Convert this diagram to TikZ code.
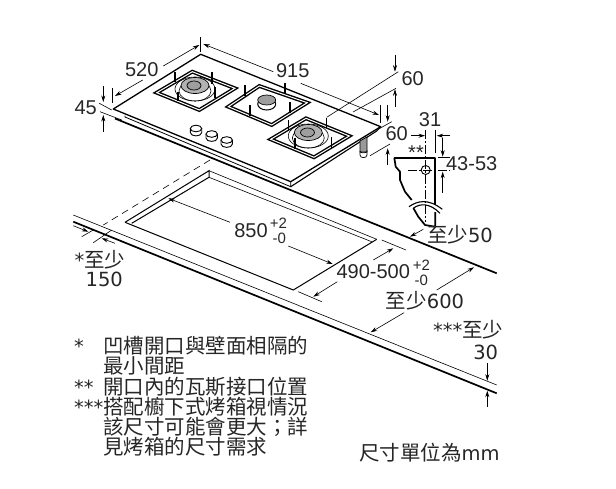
\documentclass[tikz,border=0pt]{standalone}
\usepackage{fontspec}
\usetikzlibrary{arrows.meta}
\setmainfont{Liberation Sans}
\newfontfamily\cjk[Scale=1.05]{Noto Sans CJK TC}
\newfontfamily\dv{DejaVu Sans}
\tikzset{
  dimln/.style={-{Stealth[length=6.5pt,width=4pt]},line width=.6pt},
  thinln/.style={line width=.6pt},
  medln/.style={line width=1pt},
  thickln/.style={line width=1.7pt},
  grate/.style={line width=1.4pt,double=white,double distance=1pt,line join=miter},
  post/.style={line width=1.5pt},
  lbl/.style={inner sep=0pt,font=\fontsize{20}{20}\selectfont,text=black!85},
  lbldv/.style={inner sep=0pt,font=\dv\fontsize{19.5}{20}\selectfont,text=black!85},
  lblsmall/.style={inner sep=0pt,font=\fontsize{15}{15}\selectfont,text=black!85},
  legend/.style={inner sep=0pt,anchor=base west,font=\dv\fontsize{19.5}{20}\selectfont,text=black!85},
  burnercap/.style={draw,line width=.7pt,fill=black!30},
}
\begin{document}
\begin{tikzpicture}[x=1pt,y=-1pt]
\useasboundingbox (0,0) rectangle (616,488);
% worktop
\draw[thickln] (285,187.8) -- (496.7,273.3);
\draw[thickln] (73.3,221.7) -- (496.7,393.3);
\draw[thinln] (73.3,215) -- (496.7,385);
% cut-out
\draw[thinln,dash pattern=on 7pt off 5pt] (210,160) -- (103.3,225);
\draw[medln] (125,222.3) -- (209,170.7) -- (209,177.3) -- (131.7,223.3);
\draw[thinln] (209,170.7) -- (376.7,239.3);
\draw[thinln] (209,177.3) -- (371.7,241.7);
\draw[medln] (125,222.3) -- (293.3,290) -- (376.7,239.3);
% hob
\draw[line width=1.3pt,fill=white,line join=round] (200.7,54.3) -- (380.7,126.7) -- (290.7,181.7) -- (113.3,109) -- cycle;
\draw[line width=.8pt] (125,115.5) -- (125,117) -- (290.7,186.7) -- (290.7,181.7);
\draw[thickln] (115,118.5) -- (285,187.8);
\draw[line width=1.1pt] (290.7,186.7) -- (376.7,131) -- (380.7,126.7);
% grates
\draw[grate] (192.3,71.7) -- (235,88.3) -- (199.3,110) -- (156.7,92.7) -- cycle;
\draw[grate] (259.3,86) -- (307.3,102.7) -- (271.7,125) -- (228.3,106.7) -- cycle;
\draw[grate] (306,118.3) -- (349.3,136) -- (314,157.3) -- (270.7,139.3) -- cycle;
% burner 1
\draw[thinln] (195,89) ellipse [x radius=20,y radius=12];
\draw[thinln] (195,91) ellipse [x radius=16,y radius=10];
\draw[burnercap] (195,85.5) ellipse [x radius=14,y radius=8];
\draw[burnercap,fill=black!38] (194,85.5) ellipse [x radius=7,y radius=4.5];
% burner 2
\draw[line width=1pt,fill=white] (266.7,104) ellipse [x radius=9,y radius=6];
\draw[burnercap,fill=black!38] (266.7,100) ellipse [x radius=9,y radius=5];
% burner 3
\draw[thinln] (308.3,136) ellipse [x radius=20,y radius=12];
\draw[thinln] (308.3,138) ellipse [x radius=16,y radius=10];
\draw[burnercap] (308.3,132.5) ellipse [x radius=14,y radius=8];
\draw[burnercap,fill=black!38] (307.5,132.5) ellipse [x radius=7,y radius=4.5];
% posts
\foreach \xx/\ya/\yb in {175/72/82,212/72/84,178/92/101,215/87/98,
  245/85/96,285/83/94,250/105/116,290/102/113,
  288.3/120/130,326.7/118/128,295/138/149,331.7/137/148}
  {\draw[post] (\xx,\ya) -- (\xx,\yb);}
% knobs
\foreach \xx/\yy in {196/128.5,211.7/134,226.7/140}{
  \draw[line width=.9pt,fill=white] (\xx-5.7,\yy) -- (\xx-5.7,\yy+4) .. controls (\xx-5.7,\yy+8.5) and (\xx+5.7,\yy+8.5) .. (\xx+5.7,\yy+4) -- (\xx+5.7,\yy);
  \draw[line width=.9pt,fill=white] (\xx,\yy) ellipse [x radius=5.7,y radius=3.3];
}
% foot
\draw[line width=.7pt,fill=black!40] (360,141) -- (360,152) -- (367,152) -- (367,137) -- cycle;
\draw[line width=.7pt,fill=white] (360,151) -- (360,155) .. controls (360,158.5) and (367,158.5) .. (367,155) -- (367,151) .. controls (367,153.5) and (360,153.5) .. (360,151);
% dim 520
\draw[thinln] (200.7,37) -- (200.7,52);
\draw[thinln] (112.7,88) -- (112.7,103);
\draw[dimln] (163.3,66) -- (199.3,45);
\draw[dimln] (142.7,80) -- (115,96);
\node[lbl] (d520) at (141.7,69.3) {520};
% dim 915
\draw[dimln] (273.3,71.7) -- (203.3,44);
\draw[dimln] (300.7,83.3) -- (379,115);
\draw[thinln] (380.7,105) -- (380.7,123);
\node[lbl] (d915) at (292.7,70.7) {915};
% dim 45
\draw[thinln] (99.3,103.3) -- (111.7,110);
\draw[thinln] (100,111.7) -- (121.7,120);
\draw[dimln] (103.3,86) -- (103.3,102);
\draw[dimln] (103.3,131.7) -- (103.3,115);
\node[lbl] (d45) at (85.7,108) {45};
% dim 60 upper
\draw[thinln] (398.3,71.7) -- (326.7,117.3);
\draw[thinln] (396,88.3) -- (353,112);
\draw[dimln] (395,55) -- (395,71.7);
\draw[dimln] (395,106.7) -- (395,89.3);
\node[lbl] (d60a) at (412.7,78.3) {60};
% dim 60 lower
\draw[thinln] (391.7,121.7) -- (380,128.3);
\draw[thinln] (390,144) -- (370,155.7);
\draw[dimln] (387.7,105) -- (387.7,121.7);
\draw[dimln] (387.7,165) -- (387.7,148.3);
\node[lbl] (d60b) at (396.7,134) {60};
% bracket
\draw[thickln,line join=round] (394.3,157.8) -- (435.3,157.8) -- (435.3,205);
\draw[thickln,line join=round] (394.3,157.8) -- (395.7,166.7) -- (400,171.7) -- (400,180) -- (405,191.7) -- (411.7,200);
\draw[thickln,line join=round] (413.3,208) -- (418.3,216.7) -- (425,225) -- (435.3,226.7) -- (435.3,212);
\draw[line width=1.1pt] (409,206.7) .. controls (417,201) and (428,198) .. (442.3,209.3);
\draw[line width=1.1pt] (413.3,208.3) .. controls (420,203) and (430,203) .. (440,213.3);
\draw[thinln,dash pattern=on 9pt off 2pt on 2pt off 2pt] (425.7,130) -- (425.7,222);
\draw[thinln,dash pattern=on 9pt off 2pt on 2pt off 2pt] (408,170) -- (450,170);
\draw[line width=.9pt] (425.7,170) circle (4.5);
\draw[thinln] (435.7,130) -- (435.7,153);
\draw[thinln] (438,157.3) -- (450,157.3);
\draw[dimln] (411,135.7) -- (425,135.7);
\draw[dimln] (450,135.7) -- (436.7,135.7);
\draw[dimln] (442.7,138) -- (442.7,156.7);
\draw[dimln] (442.7,193) -- (442.7,171.7);
\node[lbl] (d31) at (430,120) {31};
\node[lbl] (d43) at (471.7,163.3) {43-53};
\node[lbl] (dstar) at (416,152.6) {**};
% at least 50
\draw[dimln] (423.3,229.3) -- (410,236.7);
\node[lbldv] (d50) at (460,235) {{\cjk 至少}50};
% 850
\draw[dimln] (230,222.3) -- (168.3,198.3);
\draw[dimln] (288.3,246) -- (332.7,264);
\node[lbl] (d850) at (251,230.7) {850};
\node[lblsmall] (d850a) at (278.3,223.3) {+2};
\node[lblsmall] (d850b) at (279.3,238.3) {-0};
% 490-500
\draw[thinln] (381.7,240) -- (406,250);
\draw[thinln] (298.3,291.7) -- (321.7,301.7);
\draw[dimln] (373.3,260) -- (393.3,248.3);
\draw[dimln] (337.3,281.7) -- (313.3,296.7);
\node[lbl] (d490) at (373.3,271.7) {490-500};
\node[lblsmall] (d490a) at (421.3,265.5) {+2};
\node[lblsmall] (d490b) at (421.3,280.5) {-0};
% 600
\draw[dimln] (436.7,290) -- (474,267.3);
\draw[dimln] (404,312.7) -- (370.7,332.3);
\node[lbldv] (d600) at (425,301) {{\cjk 至少}600};
% 150
\draw[thinln] (93.3,242.7) -- (111.7,230);
\draw[thinln] (81.7,236.7) -- (93.3,230);
\draw[dimln] (73.3,225.7) -- (88.3,231.7);
\draw[dimln] (115,243.3) -- (101.7,238.3);
\node[lbldv] (d150a) at (100,259.3) {*{\cjk 至少}};
\node[lbldv] (d150b) at (104.3,279.3) {150};
% 30
\draw[dimln] (487.3,363.3) -- (487.3,380.7);
\draw[dimln] (487.3,406.7) -- (487.3,390.7);
\node[lbldv] (d30a) at (468.3,330) {***{\cjk 至少}};
\node[lbldv] (d30b) at (485.7,352.3) {30};
% legend
\node[legend] (s1) at (74,353.4) {*};
\node[legend] (t1) at (103,353.4) {\cjk 凹槽開口與壁面相隔的};
\node[legend] (t2) at (103,373.7) {\cjk 最小間距};
\node[legend] (s3) at (74,394) {**};
\node[legend] (t3) at (103,394) {\cjk 開口內的瓦斯接口位置};
\node[legend] (s4) at (74,414.3) {***};
\node[legend] (t4) at (103,414.3) {\cjk 搭配櫥下式烤箱視情況};
\node[legend] (t5) at (103,434.6) {\cjk 該尺寸可能會更大；詳};
\node[legend] (t6) at (103,454.9) {\cjk 見烤箱的尺寸需求};
\node[legend] (unit) at (359,460.7) {{\cjk 尺寸單位為}mm};
\end{tikzpicture}
\end{document}
